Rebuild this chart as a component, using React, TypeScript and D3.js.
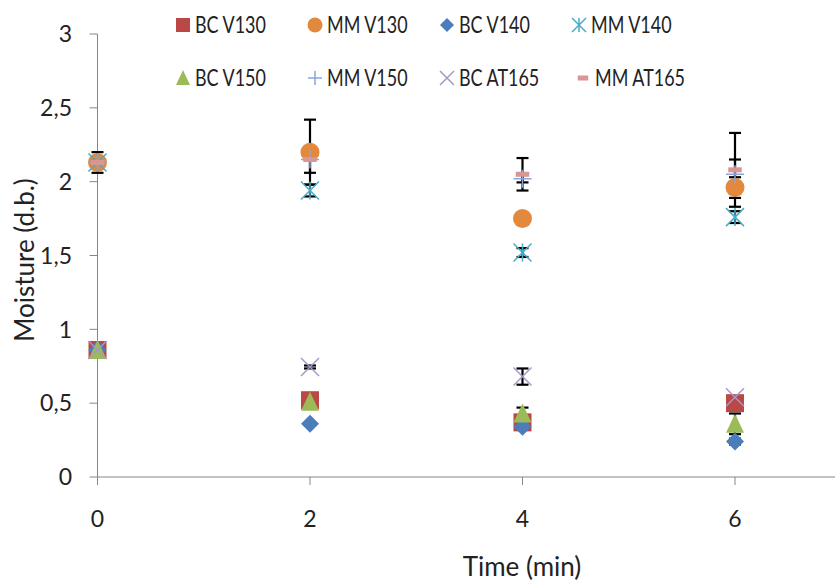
import React from "react";
import * as d3 from "d3";

const times = [0, 2, 4, 6];
const seriesNames = ["BC V130", "MM V130", "BC V140", "MM V140", "BC V150", "MM V150", "BC AT165", "MM AT165"];
const bcV130 = [0.86, 0.52, 0.37, 0.5];
const mmV130 = [2.13, 2.2, 1.75, 1.96];
const bcV140 = [0.86, 0.36, 0.34, 0.24];
const mmV140 = [2.13, 1.94, 1.52, 1.76];
const bcV150 = [0.86, 0.51, 0.43, 0.36];
const mmV150 = [2.13, 2.15, 2.02, 2.05];
const bcAT165 = [0.86, 0.745, 0.68, 0.54];
const mmAT165 = [2.13, 2.15, 2.05, 2.08];

const errBcV130 = [0, 0, 0, 0];
const errMmV130 = [0.07, 0.22, 0, 0.07];
const errBcV140 = [0, 0, 0, 0.02];
const errMmV140 = [0, 0.04, 0.03, 0.04];
const errBcV150 = [0, 0, 0.04, 0.07];
const errMmV150 = [0, 0, 0.025, 0.1];
const errBcAT165 = [0, 0.01, 0.055, 0];
const errMmAT165 = [0, 0.09, 0.11, 0.25];

const yTicks = [0, 0.5, 1, 1.5, 2, 2.5, 3];
const xTicks = [0, 2, 4, 6];

type Shape = "square" | "circle" | "diamond" | "asterisk" | "triangle" | "plus" | "cross" | "dash";

const series: { name: string; values: number[]; errors: number[]; shape: Shape; color: string }[] = [
  { name: seriesNames[0], values: bcV130, errors: errBcV130, shape: "square", color: "#BA4845" },
  { name: seriesNames[1], values: mmV130, errors: errMmV130, shape: "circle", color: "#E3893D" },
  { name: seriesNames[2], values: bcV140, errors: errBcV140, shape: "diamond", color: "#4A7DBA" },
  { name: seriesNames[3], values: mmV140, errors: errMmV140, shape: "asterisk", color: "#4BACC6" },
  { name: seriesNames[4], values: bcV150, errors: errBcV150, shape: "triangle", color: "#9BBB59" },
  { name: seriesNames[5], values: mmV150, errors: errMmV150, shape: "plus", color: "#8AA5DA" },
  { name: seriesNames[6], values: bcAT165, errors: errBcAT165, shape: "cross", color: "#A797CB" },
  { name: seriesNames[7], values: mmAT165, errors: errMmAT165, shape: "dash", color: "#D99694" },
];

const W = 835;
const H = 583;
const x = d3.scaleLinear().domain([0, 8]).range([97.5, 947.5]);
const y = d3.scaleLinear().domain([0, 3]).range([477, 34]);
const FONT = "Lato, 'Open Sans', sans-serif";
const TEXT = "#222";

function Marker({ shape, color, cx, cy, s }: { shape: Shape; color: string; cx: number; cy: number; s: number }) {
  const h = s / 2;
  switch (shape) {
    case "square":
      return <rect x={cx - h} y={cy - h} width={s} height={s} fill={color} />;
    case "circle":
      return <circle cx={cx} cy={cy} r={h + 0.5} fill={color} />;
    case "diamond":
      return <path d={`M${cx},${cy - h}L${cx + h},${cy}L${cx},${cy + h}L${cx - h},${cy}Z`} fill={color} />;
    case "triangle":
      return <path d={`M${cx},${cy - h - 1}L${cx + h},${cy + h}L${cx - h},${cy + h}Z`} fill={color} />;
    case "asterisk":
      return (
        <path
          d={`M${cx - h},${cy - h}L${cx + h},${cy + h}M${cx + h},${cy - h}L${cx - h},${cy + h}M${cx},${cy - h}L${cx},${cy + h}`}
          stroke={color}
          strokeWidth={1.5}
          fill="none"
        />
      );
    case "plus":
      return (
        <path d={`M${cx - h},${cy}L${cx + h},${cy}M${cx},${cy - h}L${cx},${cy + h}`} stroke={color} strokeWidth={1.5} fill="none" />
      );
    case "cross":
      return (
        <path
          d={`M${cx - h},${cy - h}L${cx + h},${cy + h}M${cx + h},${cy - h}L${cx - h},${cy + h}`}
          stroke={color}
          strokeWidth={1.5}
          fill="none"
        />
      );
    case "dash":
      return <rect x={cx - h * 0.75} y={cy - 2.5} width={h * 1.5} height={5} fill={color} />;
  }
}

export default function App() {
  const legendCols = [176, 308, 440, 572];
  const legendRows = [25, 78];
  return (
    <svg width={W} height={H} style={{ position: "absolute", left: 0, top: 0, background: "#fff" }} fontFamily={FONT}>
      {/* axes */}
      <line x1={x(0)} x2={x(0)} y1={y(3)} y2={y(0)} stroke="#868686" strokeWidth={1} />
      <line x1={x(0)} x2={W} y1={y(0)} y2={y(0)} stroke="#868686" strokeWidth={1} />
      {yTicks.map((t) => (
        <g key={`y${t}`}>
          <line x1={x(0) - 8} x2={x(0)} y1={y(t)} y2={y(t)} stroke="#868686" />
          <text x={72} y={y(t)} dy="0.36em" textAnchor="end" fontSize={23} fill={TEXT}>
            {String(t).replace(".", ",")}
          </text>
        </g>
      ))}
      {xTicks.map((t) => (
        <g key={`x${t}`}>
          <line x1={x(t)} x2={x(t)} y1={y(0)} y2={y(0) + 8} stroke="#868686" />
          <text x={x(t)} y={527} textAnchor="middle" fontSize={23} fill={TEXT}>
            {t}
          </text>
        </g>
      ))}
      <text x={522} y={576} textAnchor="middle" fontSize={26} fill={TEXT}>
        Time (min)
      </text>
      <text transform="translate(34,260) rotate(-90)" textAnchor="middle" fontSize={26} fill={TEXT}>
        Moisture (d.b.)
      </text>

      {/* error bars */}
      {series.map((sr) =>
        sr.values.map((v, i) =>
          sr.errors[i] > 0 ? (
            <g key={`${sr.name}-e${i}`} stroke="#000" strokeWidth={2.2}>
              <line x1={x(times[i])} x2={x(times[i])} y1={y(v + sr.errors[i])} y2={y(v - sr.errors[i])} />
              <line x1={x(times[i]) - 6} x2={x(times[i]) + 6} y1={y(v + sr.errors[i])} y2={y(v + sr.errors[i])} />
              <line x1={x(times[i]) - 6} x2={x(times[i]) + 6} y1={y(v - sr.errors[i])} y2={y(v - sr.errors[i])} />
            </g>
          ) : null
        )
      )}

      {/* markers */}
      {series.map((sr) => (
        <g key={sr.name}>
          {sr.values.map((v, i) => (
            <Marker key={i} shape={sr.shape} color={sr.color} cx={x(times[i])} cy={y(v)} s={18} />
          ))}
        </g>
      ))}

      {/* legend */}
      {series.map((sr, k) => {
        const lx = legendCols[k % 4];
        const ly = legendRows[Math.floor(k / 4)];
        const shift = k === 7 ? 4 : 0;
        return (
          <g key={`lg${k}`}>
            <Marker shape={sr.shape} color={sr.color} cx={lx + 7 + shift} cy={ly} s={14} />
            <text
              transform={`translate(${lx + 19 + shift},${ly}) scale(0.78,1)`}
              dy="0.36em"
              fontSize={23}
              fill={TEXT}
            >
              {sr.name}
            </text>
          </g>
        );
      })}
    </svg>
  );
}
